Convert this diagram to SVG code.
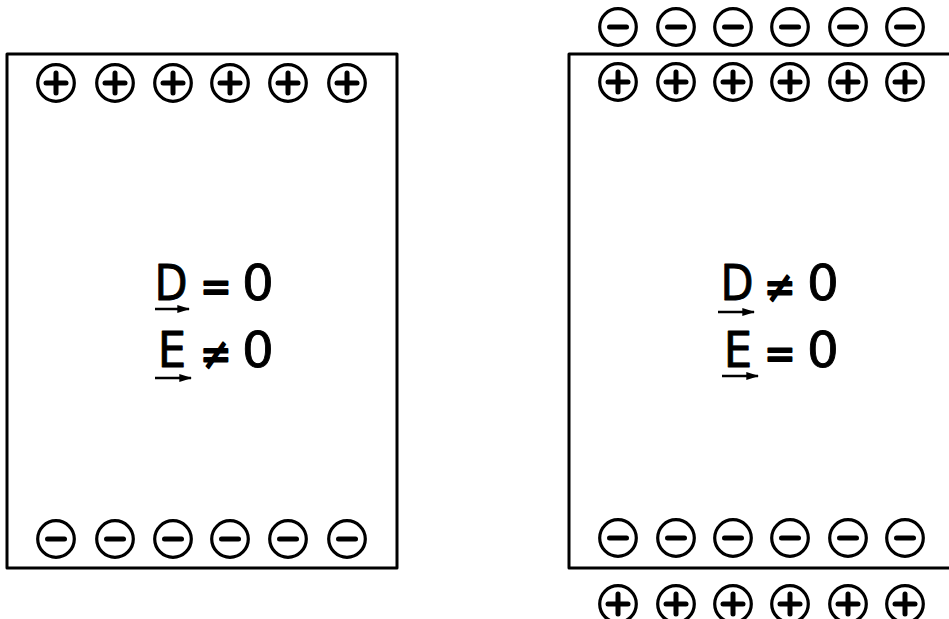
<svg xmlns="http://www.w3.org/2000/svg" xmlns:xlink="http://www.w3.org/1999/xlink" width="949" height="619" viewBox="0 0 949 619">
  <style>
    .plate { fill: none; stroke: #000; stroke-width: 3; stroke-linejoin: round; }
    .ring { fill: none; stroke: #000; stroke-width: 3.2; }
    .bar { stroke: #000; stroke-width: 5; stroke-linecap: round; }
    .sym { font-family: "DejaVu Sans", "Liberation Sans", sans-serif; font-size: 50px; fill: #000; stroke: #000; stroke-width: 0.9; stroke-linejoin: round; text-anchor: middle; }
    .rel { font-size: 44px; stroke-width: 1.9; }
    .vec { stroke: #000; stroke-width: 2.6; }
  </style>
  <defs>
    <g id="pos">
      <circle class="ring" r="18.3"/>
      <line class="bar" x1="-10" y1="0" x2="10" y2="0"/>
      <line class="bar" x1="0" y1="-10" x2="0" y2="10"/>
    </g>
    <g id="neg">
      <circle class="ring" r="18.3"/>
      <line class="bar" x1="-8.5" y1="0" x2="8.5" y2="0"/>
    </g>
    <marker id="head" viewBox="0 0 10 10" refX="9" refY="5" markerWidth="5" markerHeight="3" markerUnits="strokeWidth" orient="auto" preserveAspectRatio="none">
      <path d="M0,0 L10,5 L0,10 Z" fill="#000"/>
    </marker>
  </defs>

  <!-- Left slab: free charges only -->
  <g id="slab-left">
    <rect class="plate" x="7" y="54" width="390" height="514"/>
    <g id="left-top-charges">
      <use xlink:href="#pos" x="56" y="83"/>
      <use xlink:href="#pos" x="115" y="83"/>
      <use xlink:href="#pos" x="173" y="83"/>
      <use xlink:href="#pos" x="230" y="83"/>
      <use xlink:href="#pos" x="288" y="83"/>
      <use xlink:href="#pos" x="347" y="83"/>
    </g>
    <g id="left-bottom-charges">
      <use xlink:href="#neg" x="56" y="539"/>
      <use xlink:href="#neg" x="115" y="539"/>
      <use xlink:href="#neg" x="173" y="539"/>
      <use xlink:href="#neg" x="230" y="539"/>
      <use xlink:href="#neg" x="288" y="539"/>
      <use xlink:href="#neg" x="347" y="539"/>
    </g>
    <g id="left-label">
      <text class="sym" transform="translate(171 300) scale(0.86 1)">D</text>
      <text class="sym rel" transform="translate(216 302) scale(0.85 1)">=</text>
      <text class="sym" transform="translate(258 300)">0</text>
      <text class="sym" transform="translate(172 367) scale(0.9 1)">E</text>
      <text class="sym rel" transform="translate(216 369) scale(0.85 1)">≠</text>
      <text class="sym" transform="translate(258 367)">0</text>
    </g>
  </g>

  <!-- Right slab: free charges with compensating surface charges -->
  <g id="slab-right">
    <path class="plate" d="M949,54 H569 V568 H949"/>
    <g id="right-outer-top">
      <use xlink:href="#neg" x="618" y="27"/>
      <use xlink:href="#neg" x="676" y="27"/>
      <use xlink:href="#neg" x="733" y="27"/>
      <use xlink:href="#neg" x="790" y="27"/>
      <use xlink:href="#neg" x="848" y="27"/>
      <use xlink:href="#neg" x="905" y="27"/>
    </g>
    <g id="right-top-charges">
      <use xlink:href="#pos" x="618" y="82"/>
      <use xlink:href="#pos" x="676" y="82"/>
      <use xlink:href="#pos" x="733" y="82"/>
      <use xlink:href="#pos" x="790" y="82"/>
      <use xlink:href="#pos" x="848" y="82"/>
      <use xlink:href="#pos" x="905" y="82"/>
    </g>
    <g id="right-bottom-charges">
      <use xlink:href="#neg" x="618" y="538"/>
      <use xlink:href="#neg" x="676" y="538"/>
      <use xlink:href="#neg" x="733" y="538"/>
      <use xlink:href="#neg" x="790" y="538"/>
      <use xlink:href="#neg" x="848" y="538"/>
      <use xlink:href="#neg" x="905" y="538"/>
    </g>
    <g id="right-outer-bottom">
      <use xlink:href="#pos" x="618" y="604"/>
      <use xlink:href="#pos" x="676" y="604"/>
      <use xlink:href="#pos" x="733" y="604"/>
      <use xlink:href="#pos" x="790" y="604"/>
      <use xlink:href="#pos" x="848" y="604"/>
      <use xlink:href="#pos" x="905" y="604"/>
    </g>
    <g id="right-label">
      <text class="sym" transform="translate(737 300) scale(0.86 1)">D</text>
      <text class="sym rel" transform="translate(780 302) scale(0.85 1)">≠</text>
      <text class="sym" transform="translate(823 300)">0</text>
      <text class="sym" transform="translate(738 367) scale(0.9 1)">E</text>
      <text class="sym rel" transform="translate(780 369) scale(0.85 1)">=</text>
      <text class="sym" transform="translate(823 367)">0</text>
    </g>
  </g>

  <!-- Vector arrows under D and E -->
  <g id="connectors">
    <line class="vec" x1="155" y1="309" x2="189" y2="309" marker-end="url(#head)"/>
    <line class="vec" x1="155" y1="378" x2="191" y2="378" marker-end="url(#head)"/>
    <line class="vec" x1="718" y1="312" x2="754" y2="312" marker-end="url(#head)"/>
    <line class="vec" x1="722" y1="376" x2="758" y2="376" marker-end="url(#head)"/>
  </g>
</svg>
